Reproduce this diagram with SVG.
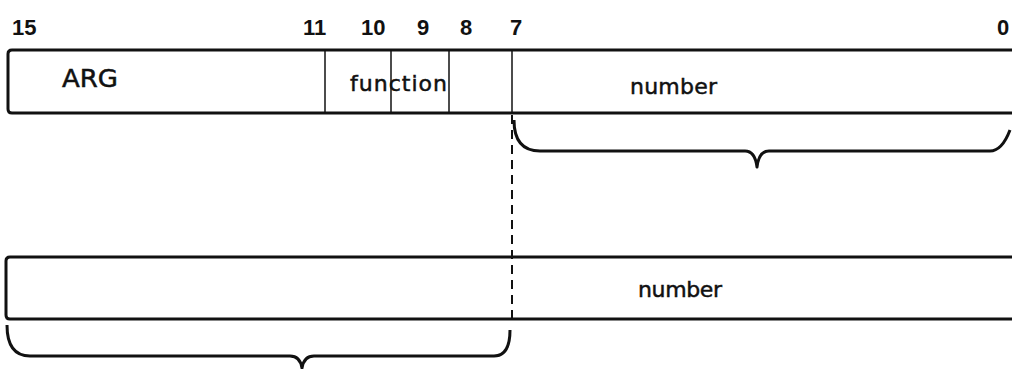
<svg xmlns="http://www.w3.org/2000/svg" width="1012" height="369" viewBox="0 0 1012 369">
<style>
.t{font-family:"DejaVu Sans","Liberation Sans",Arial,sans-serif;fill:#111}
.n{font-family:"Liberation Sans",Arial,sans-serif;font-size:22px;font-weight:bold}
.l{font-size:22px;stroke:#111;stroke-width:0.5}
.box{fill:none;stroke:#111;stroke-width:3}
.div{stroke:#111;stroke-width:1.5}
.br{fill:none;stroke:#111;stroke-width:3;stroke-linejoin:round}
.dash{stroke:#111;stroke-width:2;stroke-dasharray:9,6}
</style>
<rect width="1012" height="369" fill="#fff"/>
<g id="bit-labels">
<text class="t n" x="12" y="35">15</text>
<text class="t n" x="303" y="35">11</text>
<text class="t n" x="361" y="35">10</text>
<text class="t n" x="417" y="35">9</text>
<text class="t n" x="460" y="35">8</text>
<text class="t n" x="510" y="35">7</text>
<text class="t n" x="997" y="35">0</text>
</g>
<g id="word1">
<path class="box" d="M1014 50 H12 Q8 50 8 54 V109 Q8 113 12 113 H1014"/>
<line class="div" x1="325" y1="50" x2="325" y2="113"/>
<line class="div" x1="391" y1="50" x2="391" y2="113"/>
<line class="div" x1="449" y1="50" x2="449" y2="113"/>
<line class="div" x1="512" y1="50" x2="512" y2="113"/>
<text class="t l" x="62" y="87" style="font-size:24px" textLength="56" lengthAdjust="spacingAndGlyphs">ARG</text>
<text class="t l" x="350" y="91" textLength="97" lengthAdjust="spacing">function</text>
<text class="t l" x="630" y="94" textLength="87" lengthAdjust="spacing">number</text>
</g>
<g id="word2">
<path class="box" d="M1014 257 H10 Q6 257 6 261 V315 Q6 319 10 319 H1014"/>
<text class="t l" x="638" y="297" textLength="84" lengthAdjust="spacing">number</text>
</g>
<g id="connectors">
<line class="dash" x1="512" y1="115" x2="512" y2="318"/>
<path class="br" d="M514 120 Q514 151 540 151 H745 Q755 151 757 167 Q759 151 769 151 H990 Q1002 151 1010 130"/>
<path class="br" d="M7 325 Q7 356 30 356 H290 Q300 356 302 368 Q304 356 314 356 H494 Q510 356 510 330"/>
</g>
</svg>
